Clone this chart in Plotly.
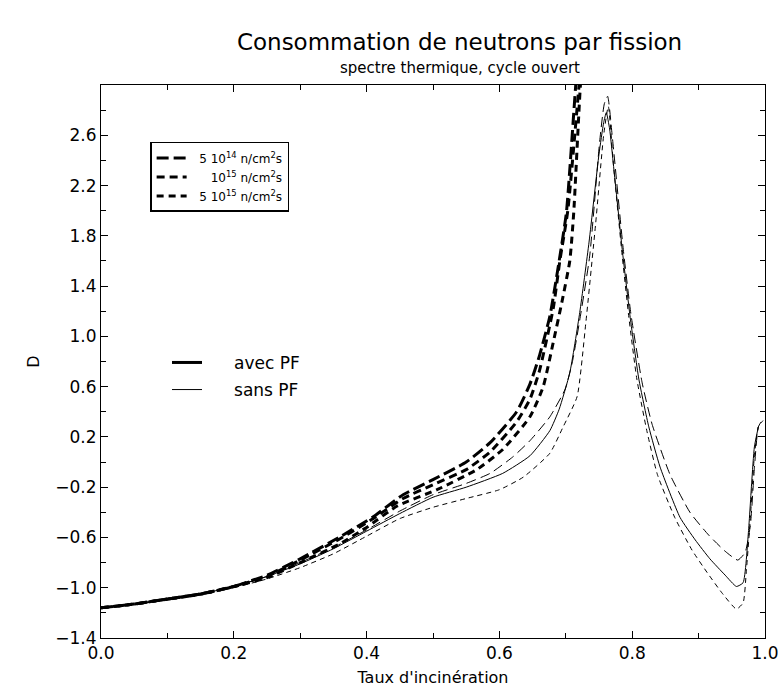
import plotly.graph_objects as go

# ---- data ----
# avec PF (thick curves)
x_avec_5e14 = [0, 0.05, 0.1, 0.15, 0.2, 0.25, 0.3, 0.36, 0.41, 0.455, 0.5, 0.55, 0.586, 0.626, 0.646, 0.66, 0.676, 0.69, 0.701, 0.715, 0.725]
y_avec_5e14 = [-1.16, -1.13, -1.09, -1.05, -0.99, -0.90, -0.77, -0.595, -0.435, -0.26, -0.14, 0.0, 0.154, 0.40, 0.62, 0.84, 1.16, 1.6, 1.99, 3.0, 3.6]

x_avec_1e15 = [0, 0.05, 0.1, 0.15, 0.2, 0.25, 0.3, 0.36, 0.41, 0.455, 0.5, 0.55, 0.586, 0.626, 0.646, 0.66, 0.681, 0.691, 0.703, 0.72, 0.73]
y_avec_1e15 = [-1.16, -1.13, -1.09, -1.05, -0.99, -0.91, -0.78, -0.61, -0.45, -0.29, -0.18, -0.06, 0.08, 0.32, 0.50, 0.72, 1.22, 1.6, 2.0, 3.0, 3.6]

x_avec_5e15 = [0, 0.05, 0.1, 0.15, 0.2, 0.25, 0.3, 0.36, 0.40, 0.446, 0.506, 0.566, 0.605, 0.646, 0.666, 0.681, 0.694, 0.706, 0.712, 0.722, 0.73]
y_avec_5e15 = [-1.16, -1.13, -1.09, -1.05, -0.99, -0.92, -0.80, -0.65, -0.52, -0.35, -0.22, -0.06, 0.10, 0.36, 0.60, 0.95, 1.27, 1.6, 1.99, 3.0, 3.5]

# sans PF (thin curves)
x_sans_5e14 = [0, 0.05, 0.1, 0.15, 0.2, 0.25, 0.3, 0.35, 0.4, 0.45, 0.5, 0.55, 0.586, 0.62, 0.646, 0.676, 0.699, 0.71, 0.721, 0.736, 0.751, 0.758, 0.763, 0.77, 0.786, 0.798, 0.815, 0.83, 0.857, 0.887, 0.915, 0.94, 0.959, 0.97, 0.978, 0.984, 0.99, 0.998]
y_sans_5e14 = [-1.16, -1.13, -1.09, -1.05, -0.99, -0.91, -0.80, -0.68, -0.54, -0.39, -0.26, -0.17, -0.09, 0.04, 0.17, 0.36, 0.58, 0.80, 1.13, 1.64, 2.55, 2.85, 2.91, 2.59, 1.72, 1.18, 0.63, 0.30, -0.10, -0.40, -0.58, -0.71, -0.78, -0.72, -0.50, -0.05, 0.28, 0.35]

x_sans_1e15 = [0, 0.05, 0.1, 0.15, 0.2, 0.25, 0.3, 0.35, 0.4, 0.45, 0.5, 0.55, 0.605, 0.646, 0.676, 0.69, 0.706, 0.721, 0.735, 0.75, 0.757, 0.761, 0.766, 0.772, 0.785, 0.797, 0.81, 0.825, 0.842, 0.872, 0.895, 0.917, 0.94, 0.957, 0.967, 0.975, 0.98, 0.984, 0.99]
y_sans_1e15 = [-1.16, -1.13, -1.09, -1.05, -0.99, -0.91, -0.81, -0.69, -0.55, -0.41, -0.28, -0.20, -0.09, 0.05, 0.25, 0.42, 0.71, 1.19, 1.75, 2.45, 2.70, 2.78, 2.65, 2.35, 1.69, 1.15, 0.66, 0.28, -0.04, -0.44, -0.62, -0.77, -0.90, -0.99, -0.96, -0.56, -0.16, 0.12, 0.28]

x_sans_5e15 = [0, 0.05, 0.1, 0.15, 0.2, 0.25, 0.3, 0.35, 0.4, 0.45, 0.5, 0.55, 0.6, 0.636, 0.676, 0.696, 0.717, 0.73, 0.745, 0.757, 0.764, 0.772, 0.784, 0.795, 0.807, 0.822, 0.838, 0.864, 0.89, 0.913, 0.935, 0.957, 0.967, 0.972, 0.978, 0.984, 0.99, 0.997]
y_sans_5e15 = [-1.16, -1.13, -1.10, -1.06, -1.00, -0.93, -0.84, -0.73, -0.59, -0.45, -0.36, -0.29, -0.22, -0.12, 0.07, 0.28, 0.52, 1.10, 1.90, 2.60, 2.83, 2.35, 1.69, 1.15, 0.66, 0.25, -0.10, -0.44, -0.70, -0.88, -1.04, -1.17, -1.12, -0.86, -0.44, 0.05, 0.28, 0.33]

NB = "\u00a0"
flux_labels = [NB * 2 + "5 10<sup>14</sup> n/cm<sup>2</sup>s",
               NB * 5 + "10<sup>15</sup> n/cm<sup>2</sup>s",
               NB * 2 + "5 10<sup>15</sup> n/cm<sup>2</sup>s"]
pf_labels = [NB * 5 + "avec PF", NB * 5 + "sans PF"]

x_ticks = [0.0, 0.2, 0.4, 0.6, 0.8, 1.0]
y_ticks = [-1.4, -1.0, -0.6, -0.2, 0.2, 0.6, 1.0, 1.4, 1.8, 2.2, 2.6]

FONT = "DejaVu Sans, Liberation Sans, Arial, sans-serif"

fig = go.Figure()

thick = [(x_avec_5e14, y_avec_5e14, "12px,5px"),
         (x_avec_1e15, y_avec_1e15, "8px,5px"),
         (x_avec_5e15, y_avec_5e15, "7px,5px")]
for (xs, ys, dash), name in zip(thick, flux_labels):
    fig.add_trace(go.Scatter(x=xs, y=ys, mode="lines", name=name, legend="legend",
                             line=dict(color="black", width=3, dash=dash, shape="spline", smoothing=0.5)))

thin = [(x_sans_5e14, y_sans_5e14, "10px,5px"),
        (x_sans_1e15, y_sans_1e15, "solid"),
        (x_sans_5e15, y_sans_5e15, "5px,4px")]
for xs, ys, dash in thin:
    fig.add_trace(go.Scatter(x=xs, y=ys, mode="lines", showlegend=False,
                             line=dict(color="black", width=1, dash=dash, shape="spline", smoothing=0.5)))

# legend entries for avec / sans PF
fig.add_trace(go.Scatter(x=[None], y=[None], mode="lines", name=pf_labels[0], legend="legend2",
                         legendgroup="a", line=dict(color="black", width=3)))
fig.add_trace(go.Scatter(x=[None], y=[None], mode="lines", name=pf_labels[1], legend="legend2",
                         legendgroup="b", line=dict(color="black", width=1)))

axis_common = dict(showline=True, linecolor="black", linewidth=1, mirror="allticks",
                   ticks="inside", ticklen=7, tickwidth=1, tickcolor="black",
                   showgrid=False, zeroline=False, ticklabeloverflow="allow", automargin=False,
                   tickfont=dict(family=FONT, size=17, color="black"))

fig.update_layout(
    width=778, height=692,
    margin=dict(l=101, r=13, t=85, b=54, autoexpand=False),
    paper_bgcolor="white", plot_bgcolor="white",
    font=dict(family=FONT, color="black"),
    title=dict(text="Consommation de neutrons par fission", font=dict(family=FONT, size=23, color="black"),
               x=0.54, xref="paper", xanchor="center", y=1 - 42 / 692, yref="container", yanchor="middle"),
    xaxis=dict(range=[0, 1], tickvals=x_ticks, tickformat=".1f",
               minor=dict(dtick=0.1, tick0=0, ticks="inside", ticklen=5, tickcolor="black"),
               title=dict(text="Taux d'incinération", font=dict(family=FONT, size=16, color="black"), standoff=9),
               **axis_common),
    yaxis=dict(range=[-1.4, 3.0], tickvals=y_ticks, tickformat=".1f",
               minor=dict(dtick=0.2, tick0=-1.4, ticks="inside", ticklen=5, tickcolor="black"),
               title=dict(text="D", font=dict(family=FONT, size=16, color="black"), standoff=11),
               **axis_common),
    legend=dict(x=0.074, y=0.897, xanchor="left", yanchor="top", bordercolor="black", borderwidth=1.5,
                bgcolor="white", font=dict(family=FONT, size=12, color="black"), tracegroupgap=0),
    legend2=dict(x=0.0994, y=0.530, xanchor="left", yanchor="top", borderwidth=0, bgcolor="rgba(0,0,0,0)",
                 font=dict(family=FONT, size=17, color="black"), traceorder="grouped", tracegroupgap=2),
    annotations=[dict(text="spectre thermique, cycle ouvert", x=0.54, xref="paper", y=(638 - 68) / 553,
                      yref="paper", xanchor="center", yanchor="middle", showarrow=False,
                      font=dict(family=FONT, size=15, color="black"))],
)

# remove the browser's default 8px body margin so the 778x692 figure fills the window exactly
fig.write_html("out.html", config={"displayModeBar": False},
               post_script="document.body.style.margin='0';document.body.style.overflow='hidden';")
